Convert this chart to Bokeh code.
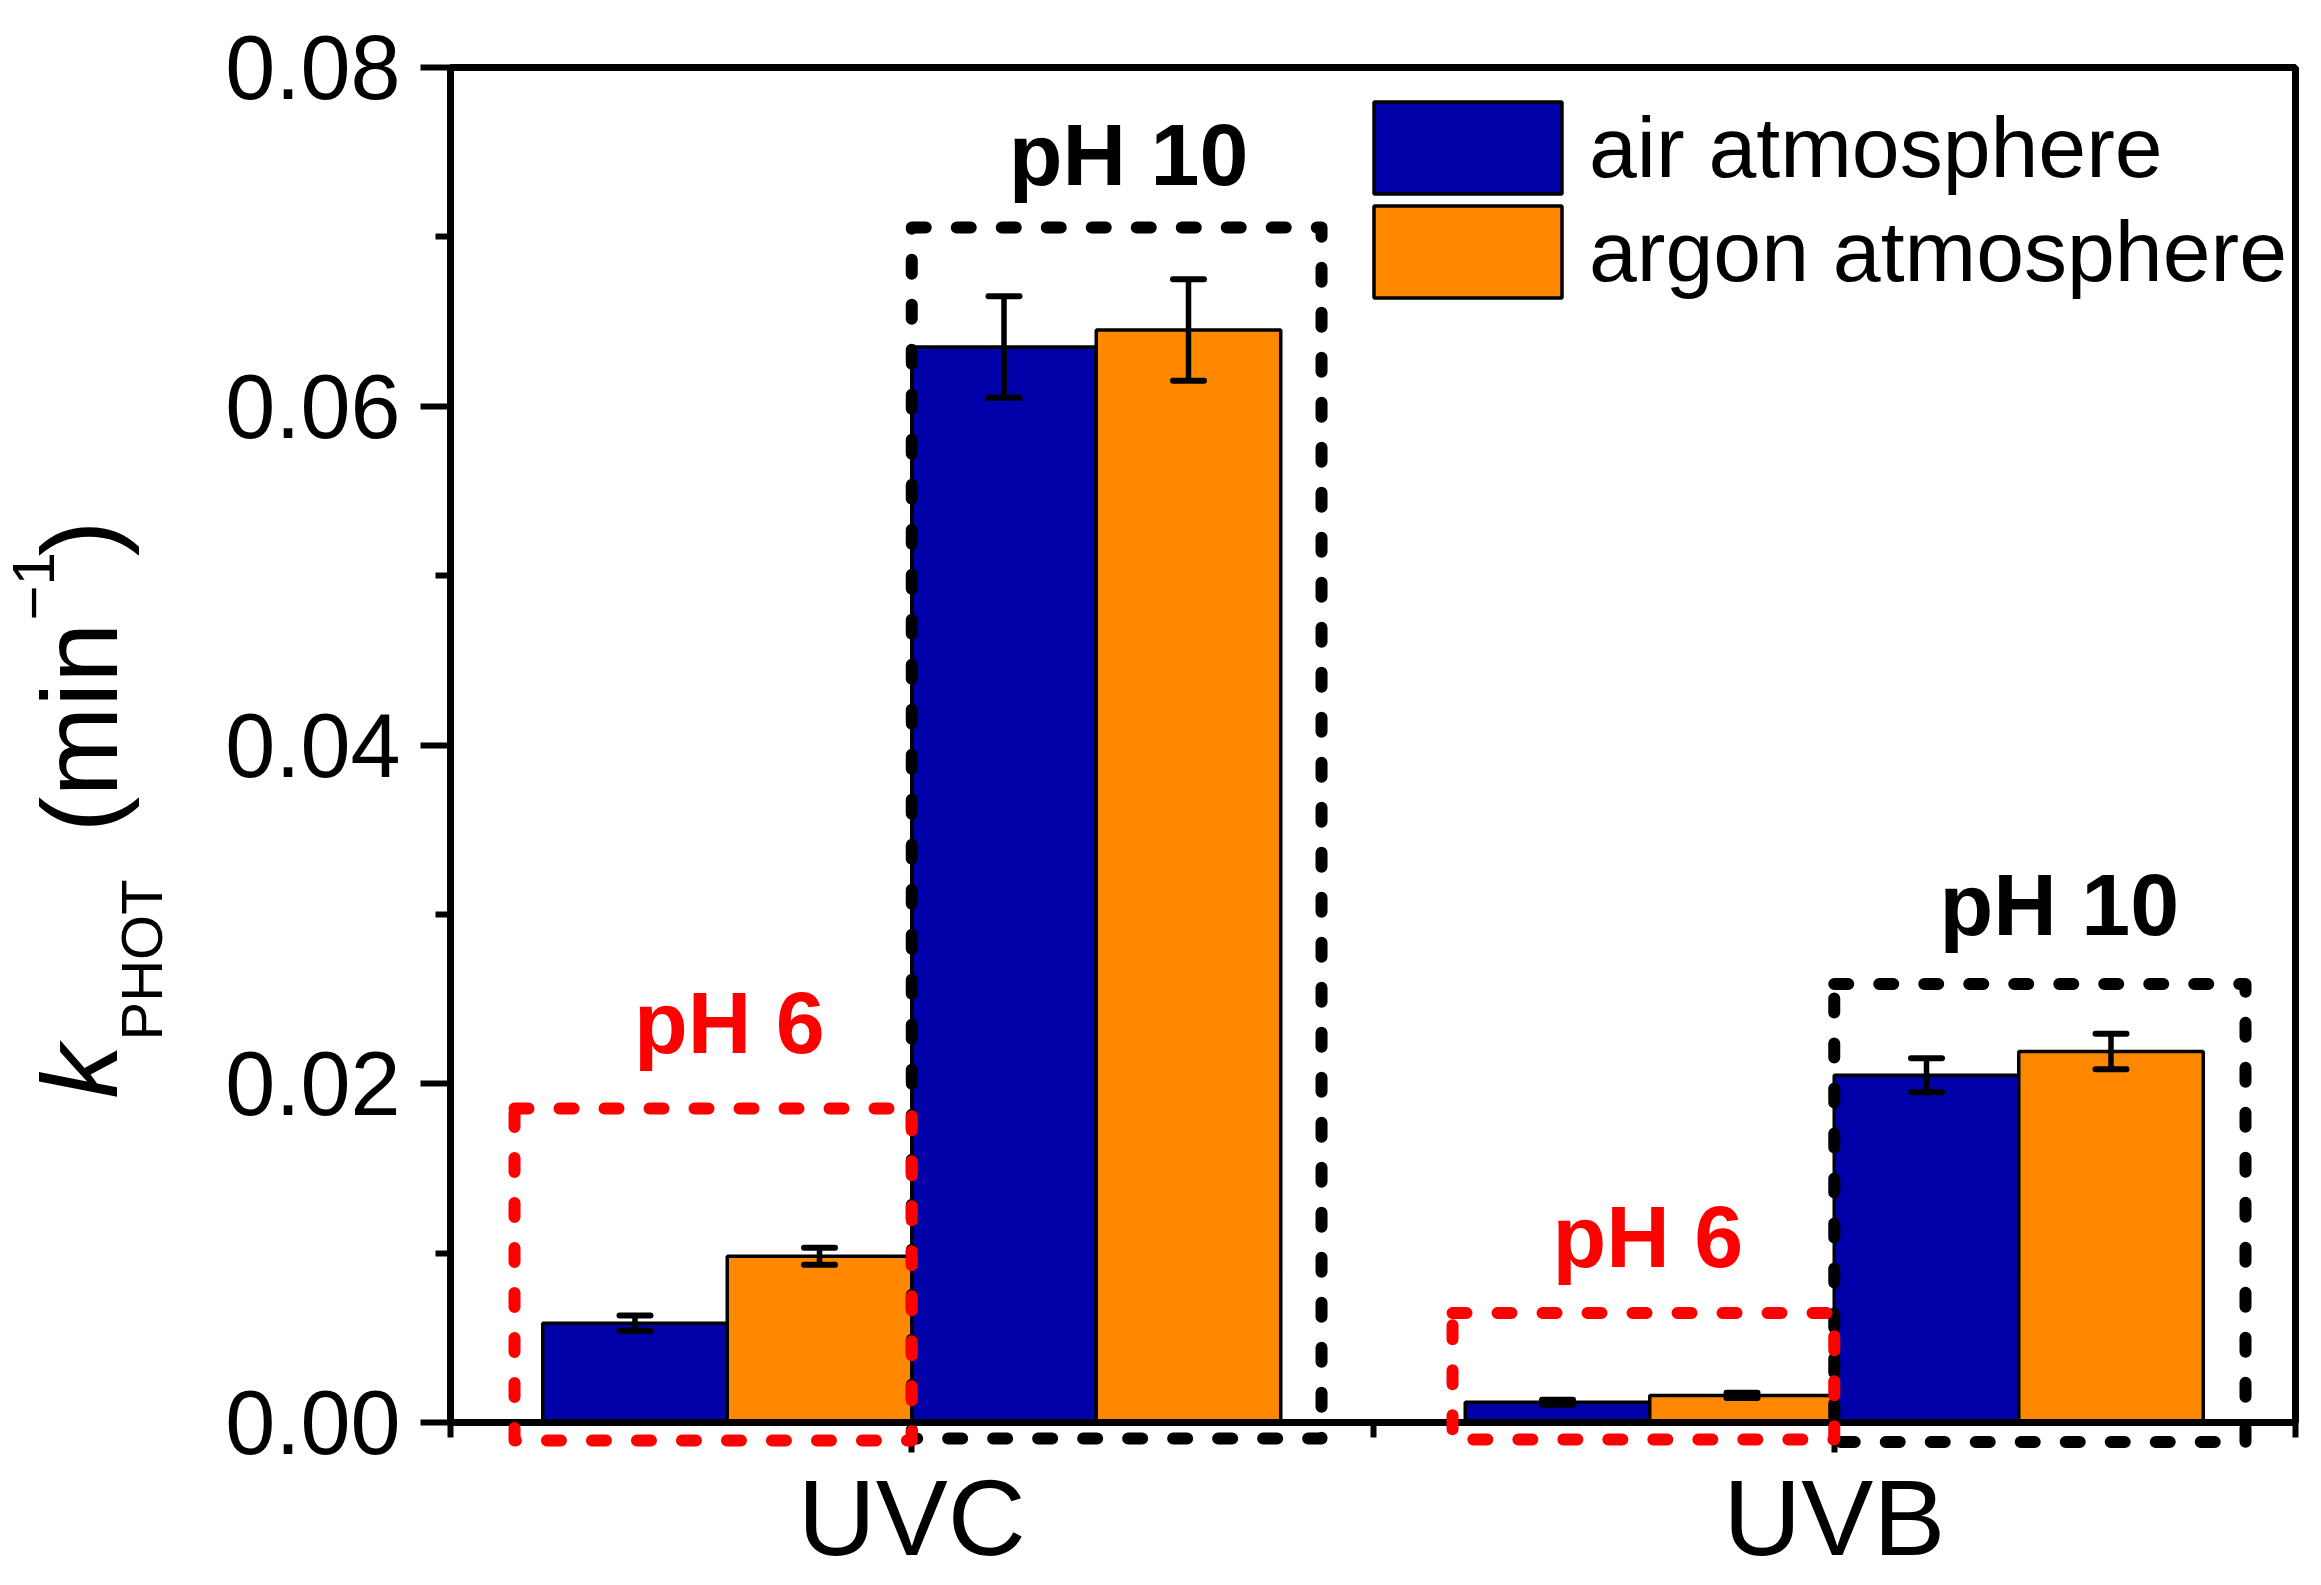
import math
from bokeh.plotting import figure
from bokeh.models import (ColumnDataSource, FixedTicker, PrintfTickFormatter, Whisker,
                          TeeHead, Legend, LegendItem, Label, Range1d)
from bokeh.core.properties import value
from bokeh.transform import dodge
from bokeh.embed import file_html
from bokeh.resources import INLINE

# ---------------- data ----------------
categories = ["UVC", "UVB"]
series_labels = ["air atmosphere", "argon atmosphere"]

ph6_air = [0.00586, 0.0012]
ph6_air_err = [0.00045, 0.00015]
ph6_argon = [0.00982, 0.0016]
ph6_argon_err = [0.0005, 0.00015]
ph10_air = [0.0635, 0.0205]
ph10_air_err = [0.0030, 0.0010]
ph10_argon = [0.0645, 0.0219]
ph10_argon_err = [0.0030, 0.00105]

y_ticks = [0.0, 0.02, 0.04, 0.06, 0.08]
y_minor = [0.01, 0.03, 0.05, 0.07]

# group annotations (pH boxes and their labels)
group_text = ["pH 6", "pH 10", "pH 6", "pH 10"]
group_color = ["#FF0000", "#000000", "#FF0000", "#000000"]
text_x = [0.8024, 1.235, 1.798, 2.244]
text_y = [0.0236, 0.07484, 0.01099, 0.03056]
box_left = [0.5694, 1.0, 1.5862, 2.0]
box_right = [1.0, 1.4442, 2.0, 2.4458]
box_top = [0.01854, 0.07055, 0.00646, 0.02589]
box_bottom = [-0.00106, -0.00094, -0.00100, -0.00115]

BLUE = "#0000A8"
ORANGE = "#FF8800"
FONT = "Liberation Sans"

positions = [i + 1 for i in range(len(categories))]

p = figure(frame_width=1845, frame_height=1355, x_range=Range1d(0.5, 2.5), y_range=Range1d(0, 0.08),
           output_backend="svg", toolbar_location=None,
           min_border_left=450, min_border_right=18, min_border_top=67, min_border_bottom=150)
p.background_fill_color = "white"
p.border_fill_color = "white"
p.outline_line_color = "black"
p.outline_line_width = 7
p.xgrid.visible = False
p.ygrid.visible = False

series = [
    (ph6_air, ph6_air_err, -0.3, BLUE),
    (ph6_argon, ph6_argon_err, -0.1, ORANGE),
    (ph10_air, ph10_air_err, 0.1, BLUE),
    (ph10_argon, ph10_argon_err, 0.3, ORANGE),
]

bar_renderers = []
for vals, errs, off, col in series:
    src = ColumnDataSource(dict(
        pos=positions, top=vals,
        upper=[v + e for v, e in zip(vals, errs)],
        lower=[v - e for v, e in zip(vals, errs)],
    ))
    r = p.vbar(x=dodge("pos", off, range=p.x_range), top="top", bottom=0, width=0.2,
               fill_color=col, line_color="black", line_width=3.5, source=src)
    bar_renderers.append(r)
    w = Whisker(base=dodge("pos", off, range=p.x_range), upper="upper", lower="lower",
                source=src, line_color="black", line_width=5.5, level="overlay",
                upper_head=TeeHead(size=31, line_width=6, line_color="black", line_cap="round"),
                lower_head=TeeHead(size=31, line_width=6, line_color="black", line_cap="round"))
    p.add_layout(w)

# dashed group boxes: black first, then red
order = [1, 3, 0, 2]
for i in order:
    p.quad(left=[box_left[i]], right=[box_right[i]], top=[box_top[i]], bottom=[box_bottom[i]],
           fill_color=None, line_color=group_color[i], line_width=12, line_dash="14 31",
           line_cap="round", line_join="round", level="overlay")

for i in range(len(group_text)):
    p.add_layout(Label(x=text_x[i], y=text_y[i], text=group_text[i], text_color=group_color[i],
                       text_font=FONT, text_font_style="bold", text_font_size="88px",
                       text_align="center", text_baseline="alphabetic"))

# axes
for ax in (p.xaxis[0], p.yaxis[0]):
    ax.axis_line_width = 7
    ax.axis_line_color = "black"
    ax.major_tick_line_width = 6
    ax.minor_tick_line_width = 6
    ax.major_tick_out = 30
    ax.major_tick_in = 0
    ax.minor_tick_out = 15
    ax.minor_tick_in = 0
    ax.major_label_text_font = FONT
    ax.major_label_text_color = "black"

p.xaxis.ticker = FixedTicker(ticks=positions, minor_ticks=[0.5, 1.5, 2.5])
p.xaxis.major_label_overrides = {pos: c for pos, c in zip(positions, categories)}
p.xaxis.major_label_text_font_size = "108px"
p.xaxis.major_label_standoff = 4

p.yaxis.ticker = FixedTicker(ticks=y_ticks, minor_ticks=y_minor)
p.yaxis.formatter = PrintfTickFormatter(format="%.2f")
p.yaxis.major_label_text_font_size = "90px"
p.yaxis.major_label_standoff = 20

# legend: one legend per entry so the swatch spacing can match
legend_bottoms = [1217, 1113]
for i in range(2):
    lg = Legend(items=[LegendItem(label=series_labels[i], renderers=[bar_renderers[i]])],
                location=(900, legend_bottoms[i]), glyph_width=235, glyph_height=115,
                padding=0, margin=0, label_standoff=4, label_text_font=FONT,
                label_text_font_size="86px", label_text_color="black", label_height=115,
                border_line_alpha=0, background_fill_alpha=0)
    p.add_layout(lg)

# y axis title composed of pieces: k_PHOT (min^-1)  (drawn as unclipped text glyphs)
ylabel_parts = [
    ("k", 0.0978, 0.01913, "108px", "italic"),
    ("PHOT", 0.1650, 0.02255, "58px", "normal"),
    ("(min", 0.0978, 0.03483, "108px", "normal"),
    ("\u22121", 0.0480, 0.04735, "60px", "normal"),
    (")", 0.0978, 0.05113, "108px", "normal"),
]
for txt, lx, ly, fs, st in ylabel_parts:
    p.text(x=[lx], y=[ly], text=[txt], angle=math.pi / 2, text_font=value(FONT),
           text_font_style=value(st), text_font_size=value(fs), text_align="left",
           text_baseline="alphabetic", text_color="black", level="overlay")

open("out.html", "w").write(file_html(p, INLINE))
